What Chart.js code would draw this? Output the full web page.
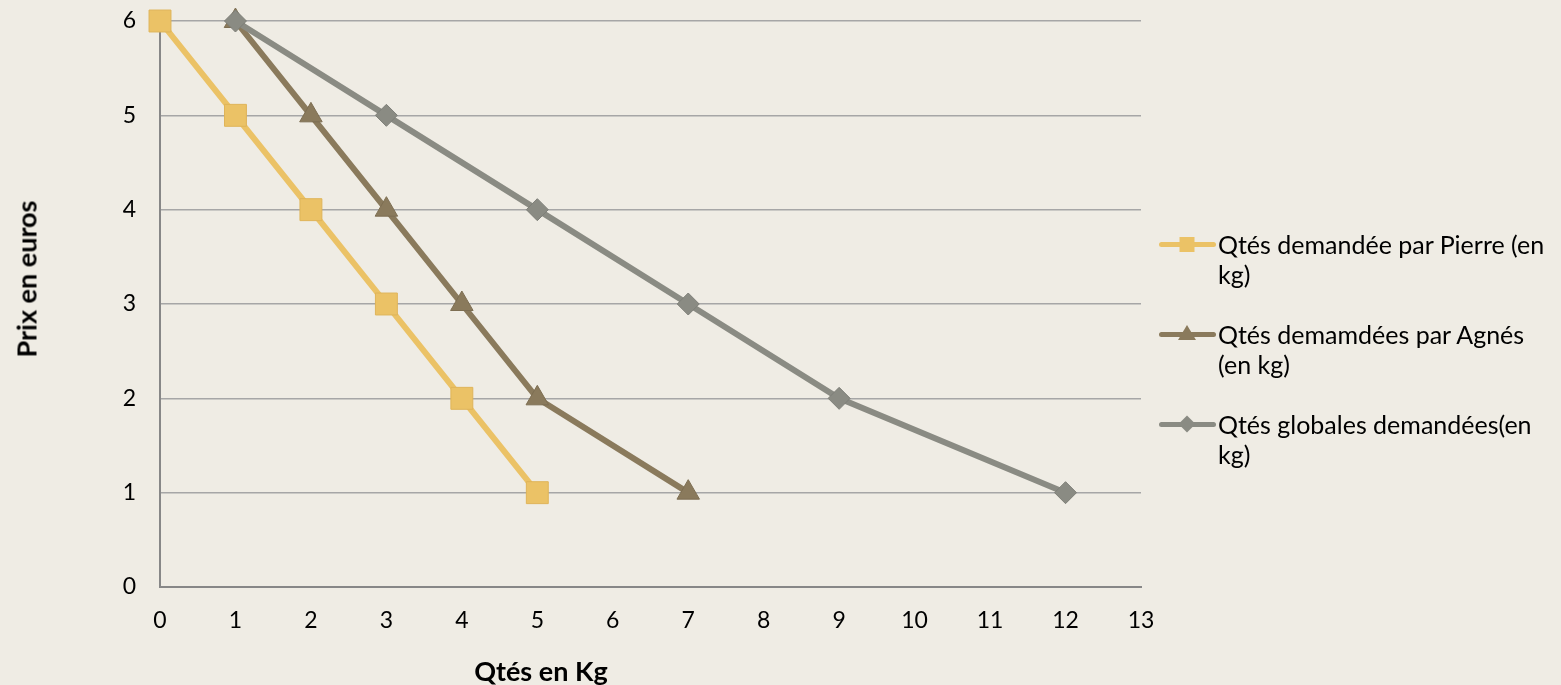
<!DOCTYPE html>
<html>
<head>
<meta charset="utf-8">
<script src="https://cdn.jsdelivr.net/npm/chart.js@4/dist/chart.umd.min.js"></script>
<style>
  html, body { margin: 0; padding: 0; background: #efece4; }
  #wrap { position: relative; width: 1561px; height: 685px; font-family: 'Lato', sans-serif; color: #000; }
  #chart { position: absolute; left: 0; top: 0; }
  .ytitle { position: absolute; left: 26px; top: 279px; transform: translate(-50%, -50%) rotate(-90deg);
            font-weight: bold; font-size: 27px; white-space: nowrap; }
  .xtitle { position: absolute; left: 541px; top: 670px; transform: translate(-50%, -50%);
            font-weight: bold; font-size: 27px; white-space: nowrap; }
  #legend { position: absolute; left: 1159px; top: 229px; font-size: 25px; line-height: 30px; }
  .item { position: relative; padding-left: 59px; margin-bottom: 30px; }
  .swatch { position: absolute; left: 0; top: 13px; width: 57px; height: 5px; border-radius: 3px; }
  .mk { position: absolute; left: 28px; transform: translate(-50%, 0); }
</style>
</head>
<body>
<div id="wrap">
  <canvas id="chart"></canvas>
  <div class="ytitle">Prix en euros</div>
  <div class="xtitle">Qtés en Kg</div>
  <div id="legend"></div>
</div>
<script>
// values
var seriesNames = [
    ['Qtés demandée par Pierre (en', 'kg)'],
    ['Qtés demamdées par Agnés', '(en kg)'],
    ['Qtés globales demandées(en', 'kg)']
];
var pierreQty  = [0, 1, 2, 3, 4, 5];
var pierrePrix = [6, 5, 4, 3, 2, 1];
var agnesQty   = [1, 2, 3, 4, 5, 7];
var agnesPrix  = [6, 5, 4, 3, 2, 1];
var globalQty  = [1, 3, 5, 7, 9, 12];
var globalPrix = [6, 5, 4, 3, 2, 1];
var xTicks = [0, 1, 2, 3, 4, 5, 6, 7, 8, 9, 10, 11, 12, 13];
var yTicks = [0, 1, 2, 3, 4, 5, 6];

var COLORS  = ['#ebc266', '#8a7a5c', '#8a8b83'];
var BORDERS = ['#dfb459', '#7d6e52', '#7e7f78'];
var STYLES  = ['rect', 'triangle', 'rectRot'];
var RADII   = [15.5, 13, 11];

function pairs(xs, ys) {
    var out = [];
    for (var i = 0; i < xs.length; i++) out.push({ x: xs[i], y: ys[i] });
    return out;
}

var allData = [pairs(pierreQty, pierrePrix), pairs(agnesQty, agnesPrix), pairs(globalQty, globalPrix)];
var drawOrder = [1, 2, 0]; // global line sits on top

var datasets = allData.map(function (d, i) {
    return {
        label: seriesNames[i].join(' '),
        data: d,
        borderColor: COLORS[i],
        backgroundColor: COLORS[i],
        borderWidth: 6,
        pointStyle: STYLES[i],
        pointRadius: RADII[i],
        pointHoverRadius: RADII[i],
        pointBackgroundColor: COLORS[i],
        pointBorderColor: BORDERS[i],
        pointBorderWidth: 1,
        tension: 0,
        fill: false,
        clip: false,
        order: drawOrder[i]
    };
});

var FONT = { family: "'Lato', sans-serif", size: 23 };

new Chart(document.getElementById('chart'), {
    type: 'line',
    data: { datasets: datasets },
    options: {
        responsive: true,
        maintainAspectRatio: false,
        animation: false,
        layout: { autoPadding: false, padding: { left: 0, top: 0, right: 420, bottom: 0 } },
        plugins: { legend: { display: false }, tooltip: { enabled: false } },
        scales: {
            x: {
                type: 'linear',
                min: xTicks[0],
                max: xTicks[xTicks.length - 1],
                afterBuildTicks: function (s) { s.ticks = xTicks.map(function (v) { return { value: v }; }); },
                afterFit: function (s) { s.height = 98; },
                grid: { display: false, drawTicks: false },
                border: { display: true, color: '#878787', width: 2 },
                ticks: { color: '#000', font: FONT, padding: 20, maxRotation: 0, autoSkip: false }
            },
            y: {
                type: 'linear',
                min: yTicks[0],
                max: yTicks[yTicks.length - 1],
                afterBuildTicks: function (s) { s.ticks = yTicks.map(function (v) { return { value: v }; }); },
                afterFit: function (s) { s.width = 160; s.paddingTop = 21; s.paddingBottom = 0; },
                grid: { color: '#a6a6a6', lineWidth: 1.5, drawTicks: false },
                border: { display: true, color: '#878787', width: 2 },
                ticks: { color: '#000', font: FONT, padding: 24 }
            }
        }
    }
});

// legend built as html
var legendEl = document.getElementById('legend');
var markerHtml = [
    '<div class="mk" style="top:8px;width:15px;height:15px;background:' + COLORS[0] + ';"></div>',
    '<div class="mk" style="top:6px;width:0;height:0;border-left:9px solid transparent;border-right:9px solid transparent;border-bottom:15px solid ' + COLORS[1] + ';"></div>',
    '<div class="mk" style="top:9px;width:12px;height:12px;background:' + COLORS[2] + ';transform:translate(-50%,0) rotate(45deg);"></div>'
];
seriesNames.forEach(function (lines, i) {
    var item = document.createElement('div');
    item.className = 'item';
    item.innerHTML = '<div class="swatch" style="background:' + COLORS[i] + ';"></div>' + markerHtml[i] + lines.join('<br>');
    legendEl.appendChild(item);
});
</script>
</body>
</html>
